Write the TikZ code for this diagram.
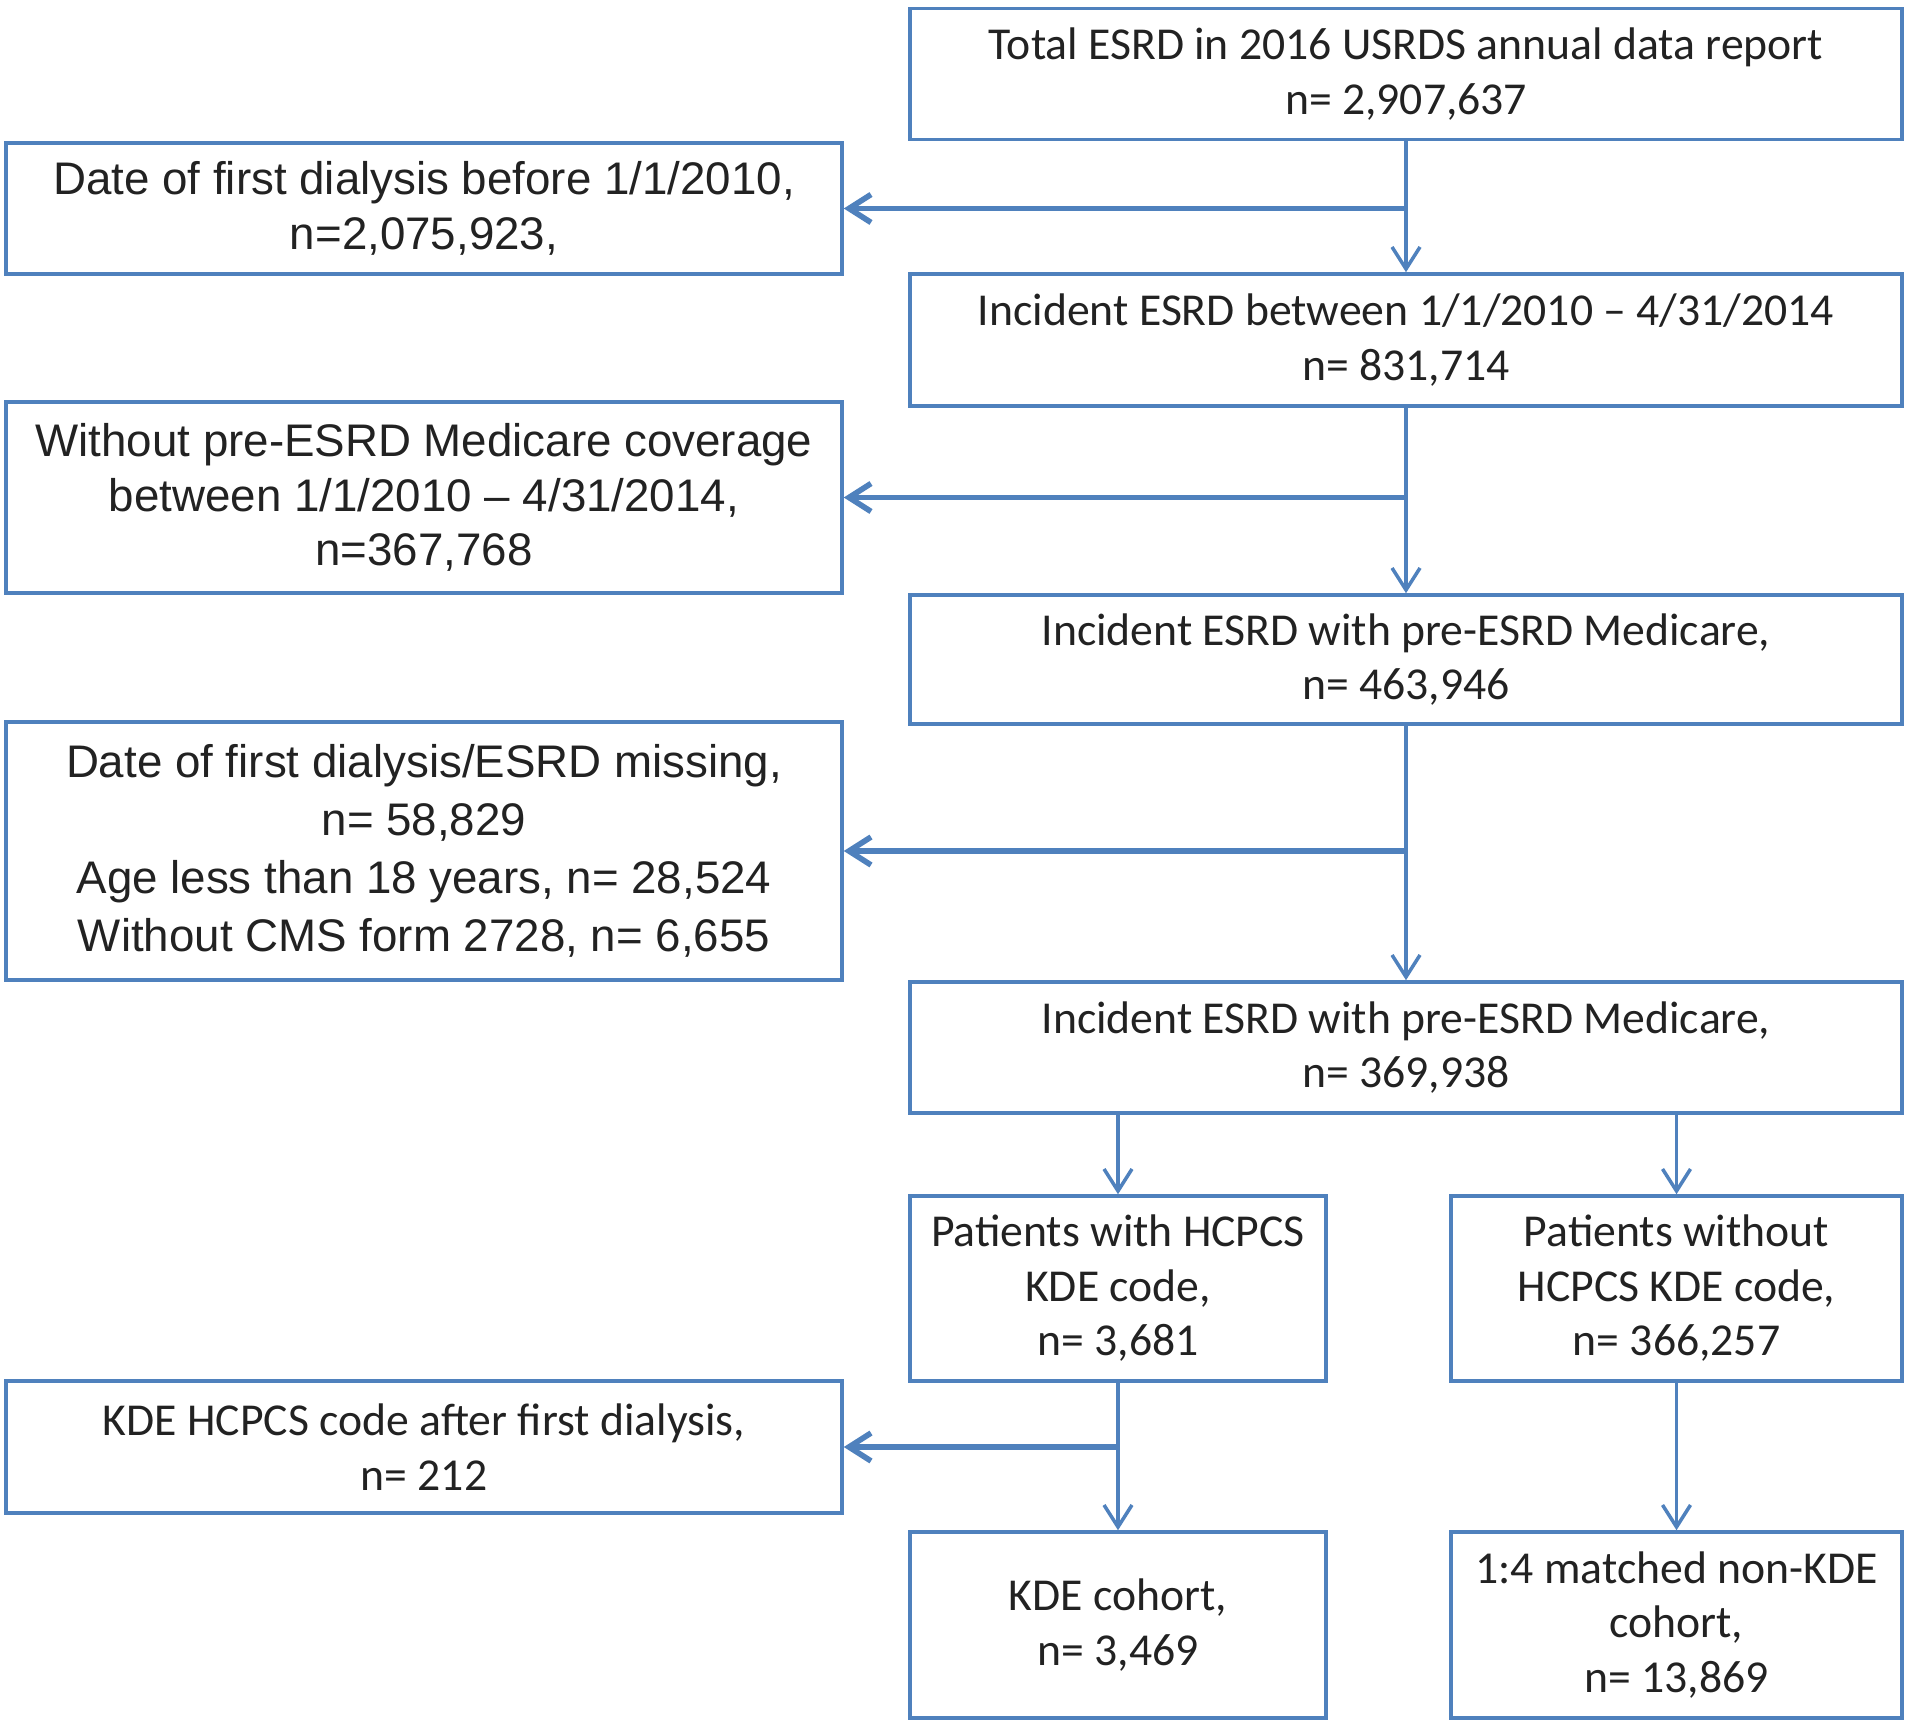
\documentclass[tikz,border=0pt]{standalone}
\usepackage{fontspec}
\setmainfont{Carlito}
\newfontfamily\arialfont{Liberation Sans}
\usetikzlibrary{arrows.meta}
\definecolor{boxblue}{RGB}{79,129,189}
\definecolor{txtgray}{RGB}{34,34,34}

\begin{document}
\begin{tikzpicture}[
  stepbox/.style={draw=boxblue, line width=1pt, align=center, text=txtgray, inner sep=2pt,
    font=\fontsize{13}{15.5}\selectfont},
  exclbox/.style={stepbox, font=\arialfont\fontsize{13}{15.5}\selectfont},
  flow/.style={draw=boxblue, line width=1pt, -{Straight Barb[length=2.2mm,width=2.8mm]}},
  cut/.style={flow, line width=1.6pt}
]
\useasboundingbox (0,0) rectangle (19.2,-17.36);
% ==================== MAIN FLOW (RIGHT) ====================
\node[stepbox, minimum width=9.92cm, minimum height=1.31cm] (total) at (14.06,-0.74)
  {Total ESRD in 2016 USRDS annual data report\\n= 2,907,637};
\node[stepbox, minimum width=9.92cm, minimum height=1.32cm] (incid) at (14.06,-3.40)
  {Incident ESRD between 1/1/2010 – 4/31/2014\\n= 831,714};
\node[stepbox, minimum width=9.92cm, minimum height=1.29cm] (medic) at (14.06,-6.595)
  {Incident ESRD with pre-ESRD Medicare,\\n= 463,946};
\node[stepbox, minimum width=9.92cm, minimum height=1.31cm] (final) at (14.06,-10.475)
  {Incident ESRD with pre-ESRD Medicare,\\n= 369,938};
% two arms
\node[stepbox, minimum width=4.16cm, minimum height=1.85cm] (withkde) at (11.18,-12.885)
  {Patients with HCPCS\\KDE code,\\n= 3,681};
\node[stepbox, minimum width=4.51cm, minimum height=1.85cm] (nokde) at (16.765,-12.885)
  {Patients without\\HCPCS KDE code,\\n= 366,257};
\node[stepbox, minimum width=4.16cm, minimum height=1.86cm] (kdecoh) at (11.18,-16.25)
  {KDE cohort,\\n= 3,469};
\node[stepbox, minimum width=4.51cm, minimum height=1.86cm] (matched) at (16.765,-16.25)
  {1:4 matched non-KDE\\cohort,\\n= 13,869};

% ==================== EXCLUSIONS (LEFT) ====================
\node[exclbox, minimum width=8.36cm, minimum height=1.31cm] (excl1) at (4.24,-2.085)
  {Date of first dialysis before 1/1/2010,\\n=2,075,923,};
\node[exclbox, minimum width=8.36cm, minimum height=1.91cm] (excl2) at (4.24,-4.975)
  {Without pre-ESRD Medicare coverage\\between 1/1/2010 – 4/31/2014,\\n=367,768};
\node[exclbox, minimum width=8.36cm, minimum height=2.58cm] (excl3) at (4.24,-8.51)
  {Date of first dialysis/ESRD missing,\\[1pt]n= 58,829\\[1pt]Age less than 18 years, n= 28,524\\[1pt]Without CMS form 2728, n= 6,655};
\node[stepbox, minimum width=8.36cm, minimum height=1.32cm] (excl4) at (4.24,-14.47)
  {KDE HCPCS code after first dialysis,\\n= 212};

% ==================== CONNECTORS ====================
\draw[flow] (total) -- (incid);
\draw[cut] (total.south |- excl1.east) -- (excl1.east);
\draw[flow] (incid) -- (medic);
\draw[cut] (incid.south |- excl2.east) -- (excl2.east);
\draw[flow] (medic) -- (final);
\draw[cut] (medic.south |- excl3.east) -- (excl3.east);
\draw[flow] (final.south -| withkde.north) -- (withkde.north);
\draw[flow] (final.south -| nokde.north) -- (nokde.north);
\draw[flow] (withkde) -- (kdecoh);
\draw[cut] (withkde.south |- excl4.east) -- (excl4.east);
\draw[flow] (nokde) -- (matched);
\end{tikzpicture}
\end{document}
